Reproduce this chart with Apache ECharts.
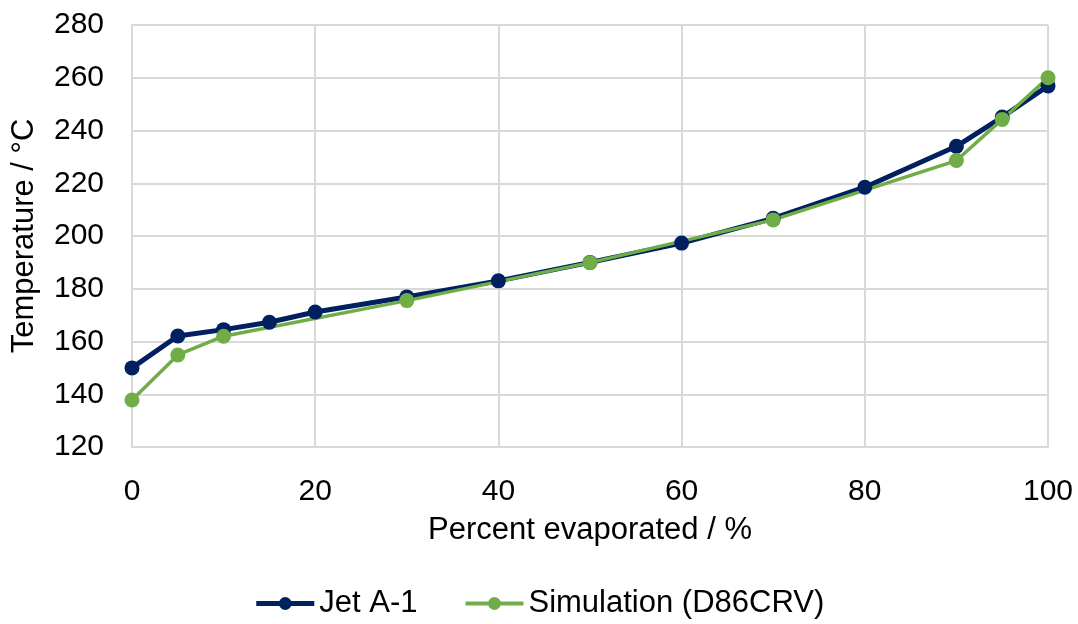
<!DOCTYPE html>
<html>
<head>
<meta charset="utf-8">
<script src="https://cdn.jsdelivr.net/npm/echarts@6/dist/echarts.min.js"></script>
<style>
html,body{margin:0;padding:0;background:#fff;}
#chart{width:1078px;height:624px;}
</style>
</head>
<body>
<div id="chart"></div>
<script>
const jetX = [0, 5, 10, 15, 20, 30, 40, 50, 60, 70, 80, 90, 95, 100];
const jetY = [150.0, 162.1, 164.5, 167.3, 171.2, 176.9, 183.0, 190.0, 197.3, 206.7, 218.5, 234.0, 245.1, 256.9];
const simX = [0, 5, 10, 30, 50, 70, 90, 95, 100];
const simY = [137.8, 154.9, 162.0, 175.5, 189.9, 206.1, 228.6, 244.2, 260.0];
const seriesNames = ['Jet A-1', 'Simulation (D86CRV)'];
const xTicks = [0, 20, 40, 60, 80, 100];
const yTicks = [120, 140, 160, 180, 200, 220, 240, 260, 280];

const font = 'Liberation Sans, Arial, sans-serif';
const chart = echarts.init(document.getElementById('chart'));
chart.setOption({
  animation: false,
  backgroundColor: '#fff',
  grid: { left: 132, right: 30, top: 25, bottom: 177 },
  legend: {
    bottom: 0,
    left: 'center',
    itemWidth: 58,
    itemHeight: 16,
    itemGap: 46,
    textStyle: { fontFamily: font, fontSize: 31, color: '#000' },
    data: [
      { name: seriesNames[0], lineStyle: { width: 5 } },
      { name: seriesNames[1], lineStyle: { width: 4 } }
    ]
  },
  xAxis: {
    type: 'value',
    min: xTicks[0], max: xTicks[xTicks.length - 1], interval: 20,
    name: 'Percent evaporated / %',
    nameLocation: 'middle', nameGap: 68,
    nameTextStyle: { fontFamily: font, fontSize: 31, color: '#000' },
    axisLine: { show: true, lineStyle: { color: '#d9d9d9', width: 2 } },
    axisTick: { show: false },
    axisLabel: { fontFamily: font, fontSize: 30, color: '#000', margin: 30 },
    splitLine: { show: true, lineStyle: { color: '#d9d9d9', width: 2 } }
  },
  yAxis: {
    type: 'value',
    min: yTicks[0], max: yTicks[yTicks.length - 1], interval: 20,
    name: 'Temperature / °C',
    nameLocation: 'middle', nameGap: 92,
    nameTextStyle: { fontFamily: font, fontSize: 31, color: '#000' },
    axisLine: { show: true, lineStyle: { color: '#d9d9d9', width: 2 } },
    axisTick: { show: false },
    axisLabel: { fontFamily: font, fontSize: 30, color: '#000', margin: 28 },
    splitLine: { show: true, lineStyle: { color: '#d9d9d9', width: 2 } }
  },
  series: [
    {
      name: seriesNames[0],
      type: 'line',
      data: jetX.map((x, i) => [x, jetY[i]]),
      symbol: 'circle', symbolSize: 15,
      lineStyle: { color: '#002060', width: 5 },
      itemStyle: { color: '#002060' }
    },
    {
      name: seriesNames[1],
      type: 'line',
      data: simX.map((x, i) => [x, simY[i]]),
      symbol: 'circle', symbolSize: 15,
      lineStyle: { color: '#70ad47', width: 3.5 },
      itemStyle: { color: '#70ad47' }
    }
  ]
});
</script>
</body>
</html>
